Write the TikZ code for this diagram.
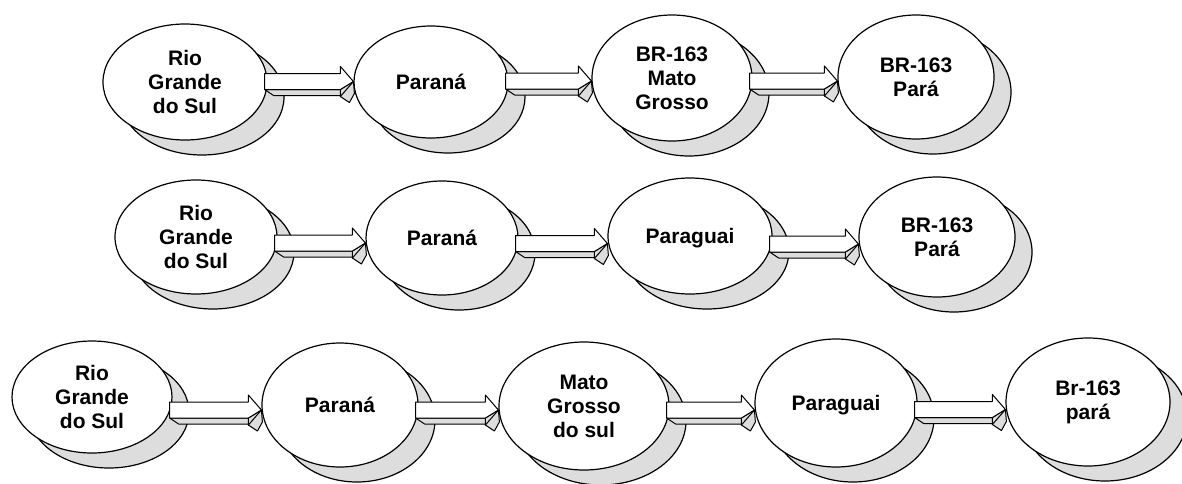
\documentclass[tikz,border=0pt]{standalone}
\usepackage{fontspec}
\setmainfont{Liberation Sans}
\usetikzlibrary{calc,shadows,shapes.geometric}
\definecolor{shd}{RGB}{221,221,221}
\tikzset{
  city/.style={ellipse, draw=black, line width=1.2pt, fill=white, inner sep=0pt,
    font=\bfseries\fontsize{21}{24}\selectfont, align=center,
    general shadow={fill=shd, draw=black, line width=1.2pt, shadow xshift=17pt, shadow yshift=-15pt}},
  arrgray/.style={fill=shd, draw=black, line width=1pt, line join=round},
  arrwhite/.style={fill=white, draw=black, line width=1pt, line join=round},
  arrline/.style={draw=black, line width=1pt, line join=round}
}
\newcommand\blockarr[3]{%
  \coordinate (s) at (#1.east |- 0,#3);
  \coordinate (t) at (#2.west |- 0,#3);
  \filldraw[arrgray] ($(s)+(-3,8)$) -- ($(s)+(6,14)$) -- ($(t)+(-13,14)$) -- ($(t)+(-13,15)$)
     -- ($(t)+(-4,21)$) -- ($(t)+(1,12)$) -- (t) -- ($(t)+(-13,8)$) -- cycle;
  \filldraw[arrwhite] ($(s)+(-3,-8)$) -- ($(t)+(-13,-8)$) -- ($(t)+(-13,-15)$) -- (t)
     -- ($(t)+(-13,8)$) -- ($(s)+(-3,8)$) -- cycle;
  \draw[arrline] ($(t)+(-13,8)$) -- ($(t)+(-13,15)$) -- (t);
}
\begin{document}
\begin{tikzpicture}[x=1pt,y=-1pt]
\useasboundingbox (0,0) rectangle (1182,483);
% row 1
\node[city, minimum width=164pt, minimum height=116pt] (e1) at (185,82) {Rio\\Grande\\do Sul};
\node[city, minimum width=154pt, minimum height=112pt] (e2) at (431,82) {Paraná};
\node[city, minimum width=160pt, minimum height=126pt] (e3) at (672,78) {BR-163\\Mato\\Grosso};
\node[city, minimum width=156pt, minimum height=124pt] (e4) at (916,77) {BR-163\\Pará};
% row 2
\node[city, minimum width=162pt, minimum height=114pt] (e5) at (196,237) {Rio\\Grande\\do Sul};
\node[city, minimum width=152pt, minimum height=114pt] (e6) at (442,238) {Paraná};
\node[city, minimum width=164pt, minimum height=116pt, text depth=0pt] (e7) at (690,236) {Paraguai};
\node[city, minimum width=156pt, minimum height=120pt] (e8) at (937,237) {BR-163\\Pará};
% row 3
\node[city, minimum width=160pt, minimum height=112pt] (e9) at (92,397) {Rio\\Grande\\do Sul};
\node[city, minimum width=156pt, minimum height=124pt] (e10) at (340,405) {Paraná};
\node[city, minimum width=170pt, minimum height=128pt] (e11) at (584,406) {Mato\\Grosso\\do sul};
\node[city, minimum width=162pt, minimum height=128pt, text depth=0pt] (e12) at (836,403) {Paraguai};
\node[city, minimum width=164pt, minimum height=128pt] (e13) at (1088,402) {Br-163\\pará};
% arrows
\blockarr{e1}{e2}{81.5}
\blockarr{e2}{e3}{81}
\blockarr{e3}{e4}{81}
\blockarr{e5}{e6}{243}
\blockarr{e6}{e7}{243.5}
\blockarr{e7}{e8}{244}
\blockarr{e9}{e10}{410}
\blockarr{e10}{e11}{410}
\blockarr{e11}{e12}{410}
\blockarr{e12}{e13}{409.5}
\end{tikzpicture}
\end{document}
